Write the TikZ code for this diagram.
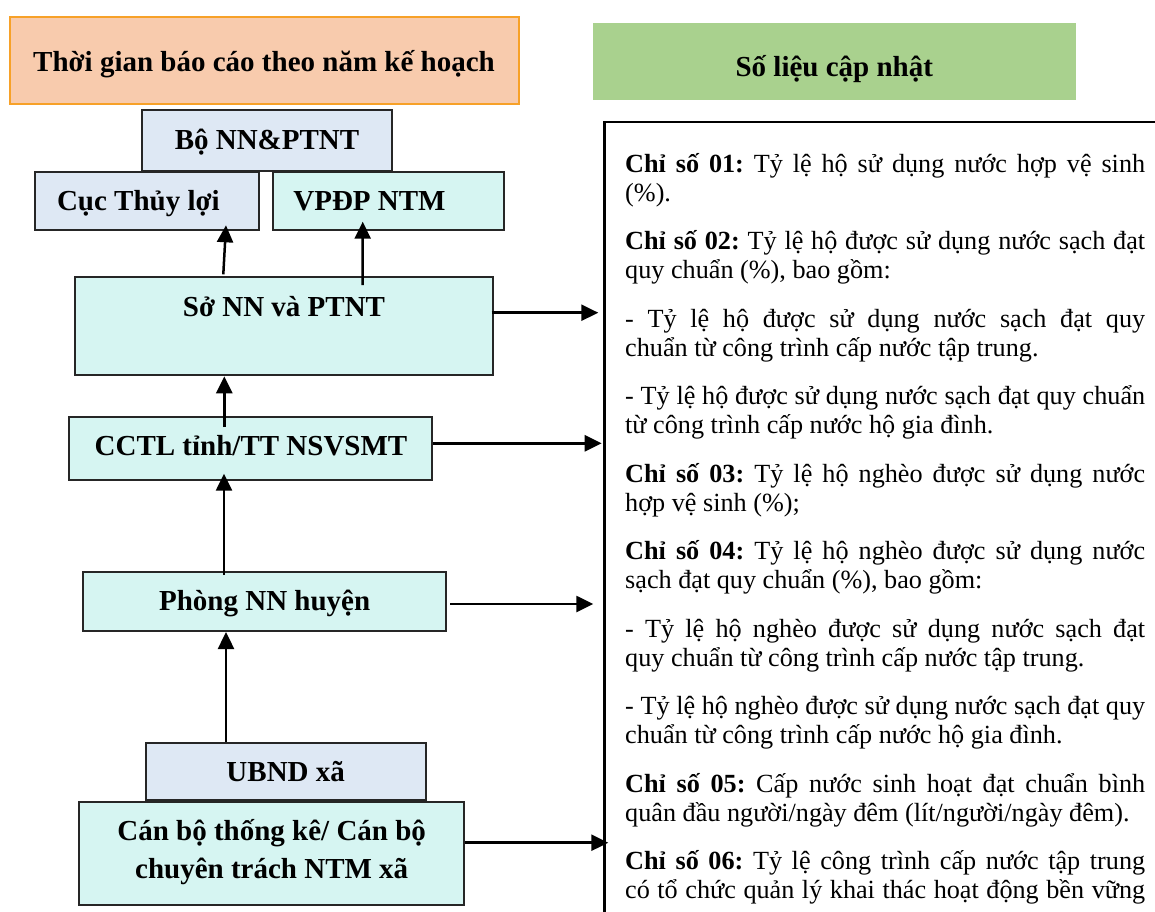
\documentclass[tikz,border=0pt]{standalone}
\usepackage{fontspec}
\setmainfont{Liberation Serif}
\usetikzlibrary{arrows.meta}
\definecolor{lblue}{HTML}{DEE8F4}
\definecolor{lcyan}{HTML}{D6F5F2}
\definecolor{peach}{HTML}{F8CBAD}
\definecolor{orangeb}{HTML}{F7A128}
\definecolor{lgreen}{HTML}{A9D18E}
\newcommand{\jline}[1]{\hbox to 520pt{#1}}
\newcommand{\nline}[1]{\hbox{#1}}
\newcommand{\pgap}{\vskip 19.1pt}
\begin{document}
\begin{tikzpicture}[x=1pt,y=-1pt,
  box/.style={draw=black!85, line width=2pt, inner sep=0pt},
  lbl/.style={anchor=base, inner sep=0pt, font=\fontsize{29}{38}\selectfont\bfseries},
  arr/.style={line width=2.5pt, -{Triangle[length=17pt,width=16pt]}},
]
\useasboundingbox (0,0) rectangle (1155,911);
\clip (0,0) rectangle (1155,911);

% headers
\node[draw=orangeb, line width=2pt, fill=peach, inner sep=0pt, minimum width=509pt, minimum height=86.8pt] (t1) at (264.1,60.1) {};
\node[lbl] (t1l) at (264,71.7) {Thời gian báo cáo theo năm kế hoạch};
\node[fill=lgreen, inner sep=0pt, minimum width=482.8pt, minimum height=77pt] (t2) at (834.2,61.5) {};
\node[lbl] (t2l) at (834.3,76) {Số liệu cập nhật};

% boxes
\node[box, fill=lblue, minimum width=250.3pt, minimum height=60.7pt] (bo) at (266.85,140.35) {};
\node[lbl] (bol) at (267,149.3) {Bộ NN\&PTNT};
\node[box, fill=lblue, minimum width=224.6pt, minimum height=58.3pt] (cuc) at (147,201.15) {};
\node[lbl] (cucl) at (138.4,210) {Cục Thủy lợi};
\node[box, fill=lcyan, minimum width=231.3pt, minimum height=58.3pt] (vp) at (388.35,201.15) {};
\node[lbl] (vpl) at (369.5,210) {VPĐP NTM};
\node[box, fill=lcyan, minimum width=418.6pt, minimum height=98pt] (so) at (284,326.3) {};
\node[lbl] (sol) at (284,316) {Sở NN và PTNT};
\node[box, fill=lcyan, minimum width=363pt, minimum height=63pt] (cctl) at (250.8,448.8) {};
\node[lbl] (cctll) at (251,455) {CCTL tỉnh/TT NSVSMT};
\node[box, fill=lcyan, minimum width=362.7pt, minimum height=59.3pt] (phong) at (264.65,601.35) {};
\node[lbl] (phongl) at (264.7,610) {Phòng NN huyện};
\node[box, fill=lblue, minimum width=280pt, minimum height=57.3pt] (ubnd) at (285.7,771.35) {};
\node[lbl] (ubndl) at (285.7,781.7) {UBND xã};
\node[box, fill=lcyan, minimum width=384.7pt, minimum height=103.3pt] (canbo) at (271.65,853.35) {};
\node[lbl] (canbol1) at (271.7,840) {Cán bộ thống kê/ Cán bộ};
\node[lbl] (canbol2) at (271.7,878) {chuyên trách NTM xã};

% right box
\node[draw=black, line width=2.5pt, inner sep=0pt, anchor=north west, minimum width=700pt, minimum height=900pt] (rbox) at (603.3,120.7) {};
\node[anchor=base west, inner sep=0pt] (txt) at (625,172) {\begin{minipage}[t]{520pt}
\fontsize{26.2}{29.2}\selectfont\lineskiplimit=-100pt
\jline{\textbf{Chỉ số 01:}~Tỷ lệ hộ sử dụng nước hợp vệ sinh}
\nline{(\%).}
\pgap
\jline{\textbf{Chỉ số 02:}~Tỷ lệ hộ được sử dụng nước sạch đạt}
\nline{quy chuẩn (\%), bao gồm:}
\pgap
\jline{- Tỷ lệ hộ được sử dụng nước sạch đạt quy}
\nline{chuẩn từ công trình cấp nước tập trung.}
\pgap
\jline{- Tỷ lệ hộ được sử dụng nước sạch đạt quy chuẩn}
\nline{từ công trình cấp nước hộ gia đình.}
\pgap
\jline{\textbf{Chỉ số 03:}~Tỷ lệ hộ nghèo được sử dụng nước}
\nline{hợp vệ sinh (\%);}
\pgap
\jline{\textbf{Chỉ số 04:}~Tỷ lệ hộ nghèo được sử dụng nước}
\nline{sạch đạt quy chuẩn (\%), bao gồm:}
\pgap
\jline{- Tỷ lệ hộ nghèo được sử dụng nước sạch đạt}
\nline{quy chuẩn từ công trình cấp nước tập trung.}
\pgap
\jline{- Tỷ lệ hộ nghèo được sử dụng nước sạch đạt quy}
\nline{chuẩn từ công trình cấp nước hộ gia đình.}
\pgap
\jline{\textbf{Chỉ số 05:}~Cấp nước sinh hoạt đạt chuẩn bình}
\nline{quân đầu người/ngày đêm (lít/người/ngày đêm).}
\pgap
\jline{\textbf{Chỉ số 06:}~Tỷ lệ công trình cấp nước tập trung}
\jline{có tổ chức quản lý khai thác hoạt động bền vững}
\end{minipage}};

% vertical arrows
\draw[arr] ([xshift=-60.7pt,yshift=2pt]so.north) -- ([xshift=79pt,yshift=6pt]cuc.south);
\draw[arr] ([xshift=78.7pt,yshift=-8.7pt]so.north) -- ([xshift=-25.65pt,yshift=9.6pt]vp.south);
\draw[arr] ([xshift=-26.5pt,yshift=-10.7pt]cctl.north) -- ([xshift=-59.7pt]so.south);
\draw[arr] ([xshift=-40.65pt,yshift=-4.3pt]phong.north) -- ([xshift=-26.8pt,yshift=7.6pt]cctl.south);
\draw[arr] ([xshift=-59.7pt]ubnd.north) -- ([xshift=-38.65pt]phong.south);

% horizontal arrows
\coordinate (a1) at ([xshift=-2.6pt,yshift=13.6pt]so.east);
\coordinate (e1) at (a1 -| rbox.west);
\draw[arr] (a1) -- ([xshift=-5pt]e1);
\coordinate (a2) at ([yshift=5.5pt]cctl.east);
\coordinate (e2) at (a2 -| rbox.west);
\draw[arr] (a2) -- ([xshift=-1.6pt]e2);
\coordinate (a3) at ([xshift=3.3pt,yshift=-2.65pt]phong.east);
\coordinate (e3) at (a3 -| rbox.west);
\draw[arr] (a3) -- ([xshift=-10pt]e3);
\coordinate (a4) at ([yshift=10.65pt]canbo.east);
\coordinate (e4) at (a4 -| rbox.west);
\draw[arr] (a4) -- ([xshift=5pt]e4);
\end{tikzpicture}
\end{document}
